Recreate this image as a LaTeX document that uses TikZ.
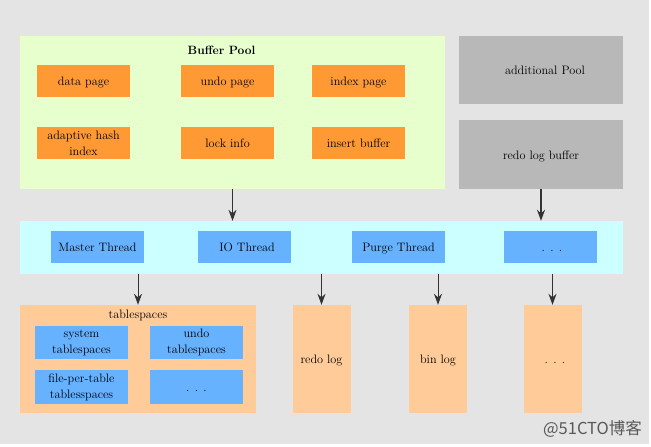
\documentclass[tikz,border=0pt]{standalone}
\usepackage{fontspec}
\newfontfamily\cjk{Noto Sans CJK SC}
\usetikzlibrary{arrows.meta}
\definecolor{pagegray}{HTML}{E4E4E4}
\definecolor{poolgreen}{HTML}{E6FFCC}
\definecolor{pageorange}{HTML}{FF9933}
\definecolor{memgray}{HTML}{B8B8B8}
\definecolor{threadcyan}{HTML}{CCFFFF}
\definecolor{threadblue}{HTML}{66B2FF}
\definecolor{filepeach}{HTML}{FFCC99}
\definecolor{arrowgray}{HTML}{333333}
\tikzset{
  plainbox/.style={inner sep=0pt, align=center, font=\fontsize{12.2}{16}\selectfont},
  oneline/.style={text height=9.5pt, text depth=0pt},
  hashbox/.style={plainbox, fill=pageorange, minimum width=93pt, minimum height=32pt},
  pagebox/.style={hashbox, oneline},
  threadbox/.style={plainbox, oneline, fill=threadblue, minimum width=93pt, minimum height=32pt},
  spacebox/.style={plainbox, fill=threadblue, minimum width=93pt, minimum height=33.5pt},
  filebox/.style={plainbox, oneline, fill=filepeach, minimum width=58pt, minimum height=108pt},
  membox/.style={plainbox, oneline, fill=memgray, minimum width=164pt},
  thinarrow/.style={draw=arrowgray, line width=0.9pt, -{Stealth[length=11pt,width=8pt]}},
  thickarrow/.style={draw=arrowgray, line width=1.5pt, -{Stealth[length=11pt,width=8pt]}}
}
\begin{document}
\begin{tikzpicture}
\useasboundingbox (0pt,0pt) rectangle (651pt,-447pt);
\fill[pagegray] (0pt,0pt) rectangle (649pt,-444pt);
% memory
\node[plainbox, fill=poolgreen, minimum width=425pt, minimum height=153pt] (bufferpool) at (232.5pt,-112.5pt) {};
\node[plainbox, oneline, font=\fontsize{12}{16}\bfseries\selectfont] (pooltitle) at (221.5pt,-50pt) {Buffer Pool};
\node[pagebox] (datapage) at (83.5pt,-81pt) {data page};
\node[pagebox] (undopage) at (227.5pt,-81pt) {undo page};
\node[pagebox] (indexpage) at (358.5pt,-81pt) {index page};
\node[hashbox] (hashindex) at (83.5pt,-143pt) {adaptive hash\\index};
\node[pagebox] (lockinfo) at (227.5pt,-143pt) {lock info};
\node[pagebox] (insertbuffer) at (358.5pt,-143pt) {insert buffer};
\node[membox, minimum height=68pt] (additional) at (541pt,-70pt) {\hspace{8pt}additional Pool};
\node[membox, minimum height=69pt] (redobuffer) at (541pt,-154.5pt) {redo log buffer};
% threads
\node[plainbox, fill=threadcyan, minimum width=603pt, minimum height=53pt] (threads) at (321.5pt,-247.5pt) {};
\node[threadbox] (masterthread) at (97.5pt,-247pt) {Master Thread};
\node[threadbox] (iothread) at (244.5pt,-247pt) {\hspace{5pt}IO Thread};
\node[threadbox] (purgethread) at (398.5pt,-247pt) {Purge Thread};
\node[threadbox] (otherthread) at (550.5pt,-247pt) {\hspace{3pt}. . .};
% files
\node[plainbox, fill=filepeach, minimum width=236pt, minimum height=108pt] (tablespaces) at (138pt,-359pt) {};
\node[plainbox, oneline] (spacestitle) at (138pt,-314pt) {tablespaces};
\node[spacebox] (systemspace) at (81.5pt,-342.5pt) {system\\tablespaces};
\node[spacebox] (undospace) at (196.5pt,-342.5pt) {undo\\tablespaces};
\node[spacebox] (filespace) at (81.5pt,-387pt) {file-per-table\\tablesspaces};
\node[spacebox, oneline] (otherspace) at (196.5pt,-387pt) {. . .};
\node[filebox] (redolog) at (321.5pt,-359pt) {redo log};
\node[filebox] (binlog) at (438pt,-359pt) {bin log};
\node[filebox] (otherlog) at (552.5pt,-359pt) {\hspace{5pt}. . .};
% arrows
\draw[thinarrow] (bufferpool.south) -- (bufferpool.south |- threads.north);
\draw[thickarrow] (redobuffer.south) -- (redobuffer.south |- threads.north);
\draw[thinarrow] (threads.south -| tablespaces.north) -- (tablespaces.north);
\draw[thinarrow] (threads.south -| redolog.north) -- (redolog.north);
\draw[thinarrow] (threads.south -| binlog.north) -- (binlog.north);
\draw[thinarrow] (threads.south -| otherlog.north) -- (otherlog.north);
\node[inner sep=0pt, text=black!65, font=\cjk\fontsize{16.5}{16}\selectfont] (stamp) at (592.5pt,-429pt) {@51CTO博客};
\end{tikzpicture}
\end{document}
